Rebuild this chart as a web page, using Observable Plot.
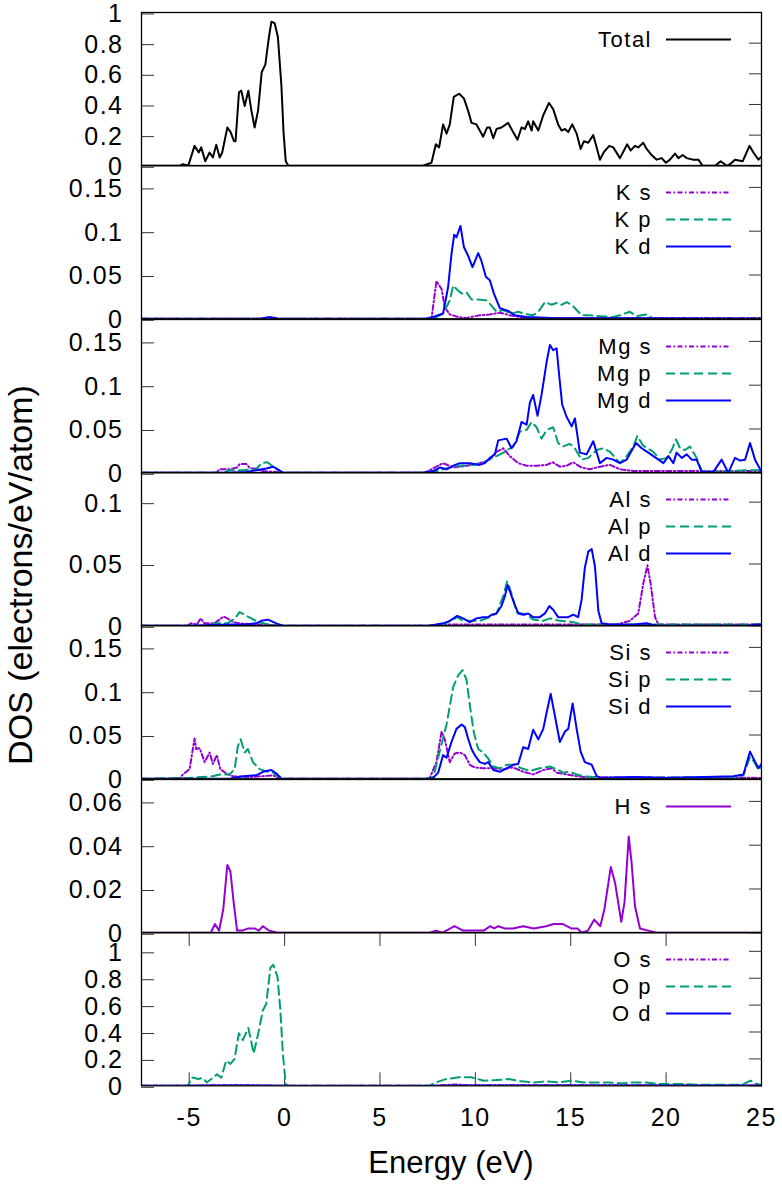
<!DOCTYPE html>
<html>
<head>
<meta charset="utf-8">
<script src="https://cdn.jsdelivr.net/npm/d3@7"></script>
<script src="https://cdn.jsdelivr.net/npm/@observablehq/plot@0.6"></script>
<style>
  html, body { margin: 0; padding: 0; background: #fff; }
  #chart { position: relative; width: 782px; height: 1189px; font-family: "Liberation Sans", Arial, sans-serif; color: #000; }
  #chart svg { position: absolute; left: 0; overflow: visible; background: transparent; }
  #chart svg text { letter-spacing: 1.5px; }
  .title { position: absolute; white-space: nowrap; }
</style>
</head>
<body>
<div id="chart"></div>
<script>
// Energy axis (eV) shared by every panel
const energyDomain = [-7.5, 25];
const energyTicks = [-5, 0, 5, 10, 15, 20, 25];

// DOS curves, [energy (eV), DOS (electrons/eV/atom)]
const totalDos = [[-7.5,0],[-5.5,0],[-5.33,0.01],[-5.05,0],[-4.72,0.13],[-4.5,0.087],[-4.37,0.12],[-4.16,0.03],[-3.93,0.087],[-3.76,0.054],[-3.58,0.137],[-3.4,0.054],[-3.27,0.087],[-3.0,0.25],[-2.83,0.22],[-2.65,0.16],[-2.57,0.16],[-2.39,0.48],[-2.27,0.49],[-2.09,0.39],[-1.9,0.49],[-1.74,0.36],[-1.57,0.25],[-1.39,0.36],[-1.2,0.61],[-1.01,0.66],[-0.82,0.84],[-0.69,0.94],[-0.52,0.93],[-0.35,0.84],[-0.17,0.53],[-0.05,0.21],[0.06,0.03],[0.2,0],[7.26,0],[7.7,0.02],[7.93,0.14],[8.1,0.12],[8.31,0.27],[8.49,0.21],[8.66,0.27],[8.87,0.45],[9.15,0.47],[9.4,0.44],[9.62,0.36],[9.8,0.28],[10.06,0.27],[10.41,0.19],[10.62,0.25],[10.76,0.25],[10.94,0.18],[11.11,0.24],[11.37,0.25],[11.72,0.28],[11.98,0.22],[12.21,0.17],[12.42,0.25],[12.6,0.24],[12.77,0.29],[12.95,0.23],[13.03,0.29],[13.3,0.23],[13.56,0.33],[13.86,0.41],[14.08,0.37],[14.34,0.27],[14.52,0.23],[14.7,0.24],[14.87,0.22],[15.08,0.27],[15.31,0.21],[15.52,0.11],[15.69,0.16],[15.92,0.15],[16.18,0.2],[16.36,0.12],[16.53,0.04],[16.74,0.09],[17.02,0.13],[17.23,0.12],[17.58,0.05],[17.96,0.14],[18.14,0.1],[18.37,0.13],[18.54,0.12],[18.8,0.15],[18.98,0.11],[19.24,0.07],[19.51,0.04],[19.77,0.05],[19.99,0.02],[20.2,0.04],[20.47,0.08],[20.64,0.05],[20.87,0.07],[21.08,0.05],[21.43,0.04],[21.69,0.04],[21.92,0],[22.57,0],[22.86,0.03],[23.18,0],[23.35,0.01],[23.61,0.04],[24.02,0.03],[24.37,0.13],[24.61,0.08],[24.84,0.04],[25,0.06]];

const kS = [[-7.5,0],[7.7,0],[7.96,0.043],[8.23,0.034],[8.4,0.013],[8.66,0.005],[9.1,0.002],[9.54,0.001],[10.23,0.004],[10.76,0.005],[11.29,0.007],[11.81,0.004],[12.34,0.002],[13.0,0.001],[25,0.001]];
const kP = [[-7.5,0],[7.79,0],[8.31,0.006],[8.66,0.021],[8.84,0.038],[9.1,0.032],[9.28,0.029],[9.54,0.03],[9.8,0.022],[10.15,0.022],[10.59,0.021],[10.85,0.015],[11.11,0.008],[11.46,0.01],[11.9,0.006],[12.25,0.008],[12.51,0.006],[12.77,0.005],[13.03,0.004],[13.3,0.008],[13.65,0.019],[14.0,0.016],[14.26,0.018],[14.52,0.016],[14.78,0.019],[15.05,0.016],[15.31,0.01],[15.57,0.004],[16.0,0.004],[16.53,0.003],[17.23,0.002],[17.58,0.004],[18.1,0.008],[18.46,0.003],[18.98,0.005],[19.33,0],[25,0]];
const kD = [[-7.5,0],[-1.3,0],[-0.78,0.002],[-0.3,0],[7.4,0],[7.79,0.002],[8.31,0.006],[8.57,0.036],[8.75,0.074],[8.89,0.096],[9.01,0.093],[9.22,0.106],[9.4,0.082],[9.62,0.072],[9.85,0.059],[10.15,0.075],[10.32,0.066],[10.55,0.048],[10.76,0.044],[10.97,0.029],[11.29,0.012],[11.72,0.009],[12.07,0.004],[12.69,0.002],[14.0,0.001],[25,0]];

const mgS = [[-7.5,0],[-3.6,0],[-3.4,0.004],[-2.9,0.004],[-2.5,0.006],[-2.35,0.01],[-2.0,0.01],[-1.8,0.005],[-1.5,0.005],[-1.2,0.002],[-0.5,0.001],[0,0],[7.3,0],[7.61,0.003],[8.31,0.011],[8.84,0.006],[9.54,0.008],[10.23,0.011],[10.76,0.015],[11.11,0.024],[11.46,0.028],[11.81,0.019],[12.25,0.011],[12.69,0.008],[13.21,0.008],[13.74,0.009],[14.05,0.012],[14.43,0.007],[14.78,0.008],[15.13,0.012],[15.57,0.006],[16.0,0.004],[16.53,0.007],[17.06,0.009],[17.58,0.004],[18.28,0.002],[25,0.002]];
const mgP = [[-7.5,0],[-3.2,0],[-2.9,0.003],[-2.2,0.003],[-1.5,0.004],[-1.2,0.011],[-0.9,0.012],[-0.65,0.008],[-0.35,0.003],[-0.1,0],[7.3,0],[7.79,0.001],[8.66,0.006],[9.19,0.008],[9.89,0.009],[10.41,0.011],[10.68,0.015],[11.02,0.018],[11.46,0.023],[11.98,0.03],[12.34,0.047],[12.69,0.049],[12.95,0.058],[13.21,0.052],[13.47,0.039],[13.74,0.049],[14.08,0.052],[14.34,0.034],[14.6,0.03],[14.95,0.033],[15.22,0.028],[15.57,0.015],[15.92,0.017],[16.36,0.026],[16.71,0.028],[17.06,0.024],[17.58,0.011],[17.93,0.019],[18.28,0.03],[18.49,0.042],[18.8,0.031],[19.33,0.024],[19.68,0.015],[20.03,0.017],[20.29,0.026],[20.52,0.038],[20.73,0.028],[20.99,0.026],[21.25,0.03],[21.6,0.017],[21.87,0.002],[22.8,0.001],[23.5,0.002],[24.3,0.003],[25,0.003]];
const mgD = [[-7.5,0],[-3.0,0],[-2.0,0.001],[-1.48,0.003],[-0.95,0.005],[-0.61,0.007],[-0.35,0.004],[-0.08,0],[7.26,0],[7.79,0.002],[8.14,0.006],[8.49,0.004],[8.84,0.008],[9.19,0.011],[9.71,0.011],[10.23,0.009],[10.5,0.011],[10.76,0.017],[11.02,0.021],[11.2,0.037],[11.64,0.039],[11.9,0.028],[12.16,0.036],[12.42,0.058],[12.69,0.055],[12.86,0.08],[13.03,0.089],[13.26,0.065],[13.47,0.089],[13.74,0.127],[13.91,0.146],[14.08,0.14],[14.26,0.142],[14.4,0.11],[14.55,0.078],[14.78,0.064],[15.05,0.053],[15.22,0.062],[15.48,0.023],[15.83,0.021],[16.18,0.036],[16.53,0.011],[16.88,0.017],[17.23,0.015],[17.58,0.011],[17.93,0.015],[18.42,0.034],[18.72,0.028],[19.07,0.023],[19.33,0.019],[19.6,0.015],[19.86,0.011],[20.12,0.019],[20.38,0.011],[20.55,0.023],[20.82,0.017],[21.08,0.021],[21.34,0.015],[21.6,0.015],[21.87,0.001],[22.48,0.001],[22.91,0.015],[23.26,0],[23.61,0.017],[23.88,0.014],[24.14,0.015],[24.4,0.034],[24.66,0.015],[24.93,0.004],[25,0.003]];

const alS = [[-7.5,0],[-5.1,0],[-4.9,0.002],[-4.6,0.001],[-4.4,0.006],[-4.2,0.002],[-3.67,0.002],[-3.2,0.0075],[-3.0,0.006],[-2.7,0.003],[-2.4,0.002],[-1.5,0.001],[0,0],[7.5,0],[8,0.001],[17.4,0.001],[18.1,0.004],[18.54,0.01],[18.8,0.034],[19.02,0.049],[19.19,0.034],[19.42,0.007],[19.6,0.001],[25,0.001]];
const alP = [[-7.5,0],[-4.0,0],[-3.67,0.002],[-3.0,0.002],[-2.6,0.006],[-2.36,0.011],[-2.1,0.009],[-1.74,0.006],[-1.4,0.003],[-0.8,0.001],[0,0],[7.6,0],[8.31,0.001],[9.05,0.007],[9.36,0.004],[10.23,0.004],[10.59,0.006],[11.11,0.01],[11.46,0.024],[11.67,0.036],[11.9,0.026],[12.16,0.011],[12.69,0.009],[13.03,0.005],[13.56,0.004],[13.91,0.006],[14.43,0.004],[15.13,0.003],[15.57,0.001],[25,0.001]];
const alD = [[-7.5,0],[-5.0,0],[-3.0,0.001],[-2.0,0.001],[-1.48,0.002],[-1.22,0.004],[-0.87,0.005],[-0.43,0.002],[-0.1,0],[7.61,0],[8.31,0.002],[8.66,0.004],[9.05,0.008],[9.36,0.006],[9.71,0.003],[10.06,0.006],[10.41,0.007],[10.68,0.007],[10.85,0.009],[11.11,0.01],[11.37,0.016],[11.55,0.024],[11.69,0.033],[11.9,0.024],[12.07,0.017],[12.25,0.01],[12.51,0.009],[12.77,0.01],[13.03,0.007],[13.38,0.007],[13.65,0.01],[13.88,0.016],[14.08,0.013],[14.34,0.007],[14.6,0.007],[14.87,0.007],[15.13,0.009],[15.39,0.007],[15.57,0.021],[15.74,0.047],[15.92,0.06],[16.1,0.062],[16.27,0.048],[16.45,0.012],[16.62,0.002],[17.06,0.001],[18.28,0.001],[18.98,0.002],[19.5,0],[24.3,0],[24.7,0.001],[25,0.001]];

const siS = [[-7.5,0],[-5.5,0],[-5.33,0.005],[-4.98,0.011],[-4.72,0.046],[-4.63,0.034],[-4.45,0.035],[-4.19,0.019],[-3.93,0.03],[-3.76,0.017],[-3.55,0.027],[-3.37,0.011],[-3.05,0.006],[-2.71,0.003],[-1.83,0.002],[-1.13,0.003],[-0.61,0.004],[-0.26,0],[7.4,0],[7.61,0.001],[7.96,0.019],[8.23,0.054],[8.4,0.045],[8.66,0.019],[8.92,0.029],[9.19,0.03],[9.45,0.027],[9.71,0.016],[9.97,0.013],[10.41,0.012],[10.94,0.012],[11.46,0.011],[11.98,0.013],[12.51,0.008],[13.03,0.005],[13.56,0.01],[14.0,0.012],[14.26,0.007],[14.78,0.005],[15.31,0.003],[15.8,0.002],[25,0.001]];
const siP = [[-7.5,0],[-5.0,0.001],[-3.76,0.003],[-3.4,0.005],[-2.88,0.005],[-2.62,0.011],[-2.45,0.037],[-2.3,0.045],[-2.09,0.03],[-1.92,0.034],[-1.66,0.019],[-1.31,0.011],[-0.87,0.008],[-0.61,0.007],[-0.35,0.003],[-0.1,0],[7.4,0],[7.8,0.002],[8.14,0.032],[8.49,0.062],[8.84,0.105],[9.1,0.118],[9.33,0.124],[9.54,0.113],[9.71,0.084],[9.92,0.053],[10.15,0.034],[10.41,0.03],[10.68,0.023],[10.94,0.014],[11.29,0.012],[11.64,0.016],[12.07,0.016],[12.42,0.012],[12.86,0.009],[13.38,0.012],[13.91,0.014],[14.26,0.011],[14.6,0.007],[14.95,0.008],[15.31,0.005],[15.66,0.003],[16.18,0.002],[16.6,0.001],[23.5,0.002],[24.05,0.004],[24.4,0.025],[24.6,0.02],[24.84,0.01],[25,0.014]];
const siD = [[-7.5,0],[-2.88,0],[-2.18,0.003],[-1.48,0.004],[-1.13,0.008],[-0.69,0.01],[-0.43,0.006],[-0.17,0],[7.5,0],[7.79,0.001],[8.05,0.007],[8.31,0.027],[8.49,0.024],[8.75,0.042],[9.01,0.057],[9.28,0.062],[9.45,0.059],[9.62,0.046],[9.8,0.034],[9.97,0.027],[10.23,0.019],[10.5,0.017],[10.68,0.019],[10.94,0.01],[11.29,0.008],[11.64,0.012],[11.98,0.016],[12.25,0.017],[12.51,0.036],[12.77,0.034],[13.03,0.056],[13.3,0.045],[13.56,0.057],[13.74,0.076],[13.95,0.097],[14.17,0.072],[14.43,0.042],[14.7,0.054],[14.87,0.057],[15.1,0.086],[15.31,0.057],[15.52,0.031],[15.74,0.019],[16.1,0.016],[16.36,0.003],[16.6,0.001],[18.28,0.002],[20,0.001],[23.53,0.003],[24.05,0.005],[24.4,0.031],[24.58,0.023],[24.84,0.012],[25,0.017]];

const hS = [[-7.5,0],[-3.87,0],[-3.65,0.004],[-3.43,0.001],[-3.21,0.011],[-3.0,0.031],[-2.84,0.028],[-2.67,0.014],[-2.49,0.001],[-2.23,0.001],[-1.9,0.002],[-1.57,0.002],[-1.35,0.001],[-1.14,0.003],[-0.81,0.001],[-0.37,0],[7.6,0],[7.93,0.001],[8.26,0],[8.91,0.003],[9.35,0.001],[10.44,0.001],[10.77,0.003],[10.99,0.002],[11.2,0.003],[11.53,0.002],[11.97,0.002],[12.51,0.003],[13.06,0.002],[13.71,0.003],[14.11,0.004],[14.59,0.004],[15.03,0.002],[15.35,0.002],[15.57,0],[15.9,0.001],[16.23,0.006],[16.55,0.003],[16.77,0.011],[17.1,0.03],[17.32,0.023],[17.65,0.005],[17.82,0.014],[18.04,0.044],[18.19,0.032],[18.37,0.012],[18.63,0.002],[19.07,0.001],[19.5,0],[25,0]];

const oS = [[-7.5,0],[-5.0,0],[-4.5,0.003],[-2.0,0.004],[0,0],[7.6,0],[8.5,0.006],[9.0,0.01],[9.5,0.005],[12.0,0.005],[17.0,0.004],[25,0.002]];
const oP = [[-7.5,0],[-5.07,0],[-4.85,0.062],[-4.52,0.05],[-4.3,0.06],[-4.08,0.025],[-3.76,0.06],[-3.54,0.085],[-3.32,0.06],[-3.06,0.188],[-2.84,0.163],[-2.62,0.2],[-2.4,0.39],[-2.19,0.34],[-1.9,0.43],[-1.62,0.24],[-1.35,0.41],[-1.14,0.56],[-0.96,0.61],[-0.74,0.88],[-0.59,0.9],[-0.37,0.81],[-0.22,0.56],[-0.09,0.24],[0.06,0.01],[0.2,0],[7.6,0],[7.93,0.025],[8.47,0.05],[9.13,0.063],[9.78,0.063],[10.44,0.038],[11.1,0.043],[11.75,0.05],[12.4,0.033],[13.06,0.025],[13.71,0.033],[14.37,0.025],[15.03,0.038],[15.68,0.025],[16.34,0.025],[17.0,0.025],[17.65,0.018],[18.29,0.025],[18.95,0.025],[19.61,0.013],[20.27,0.013],[20.92,0.013],[21.58,0.008],[22.45,0.008],[23.33,0.008],[24.0,0.008],[24.42,0.038],[24.75,0.013],[25,0.008]];
const oD = [[-7.5,0],[-3.0,0.002],[-1.0,0.003],[0.2,0],[7.6,0],[10.0,0.003],[25,0.002]];

// y-axis tick values of each panel
const totalTicks = [0, 0.2, 0.4, 0.6, 0.8, 1];
const smallTicks = [0, 0.05, 0.1, 0.15];
const alTicks = [0, 0.05, 0.1];
const hTicks = [0, 0.02, 0.04, 0.06];
const oTicks = [0, 0.2, 0.4, 0.6, 0.8, 1];

// orbital line styles
const styles = {
  total: {stroke: "#000000", dash: null},
  s: {stroke: "#9400d3", dash: "5,2.5,1.5,2.5"},
  p: {stroke: "#009e73", dash: "9,5"},
  d: {stroke: "#0000ff", dash: null},
  hs: {stroke: "#9400d3", dash: null}
};

const panels = [
  {ymax: 1, ticks: totalTicks, series: [["Total", totalDos, "total"]]},
  {ymax: 0.175, ticks: smallTicks, series: [["K s", kS, "s"], ["K p", kP, "p"], ["K d", kD, "d"]]},
  {ymax: 0.175, ticks: smallTicks, series: [["Mg s", mgS, "s"], ["Mg p", mgP, "p"], ["Mg d", mgD, "d"]]},
  {ymax: 0.124, ticks: alTicks, series: [["Al s", alS, "s"], ["Al p", alP, "p"], ["Al d", alD, "d"]]},
  {ymax: 0.175, ticks: smallTicks, series: [["Si s", siS, "s"], ["Si p", siP, "p"], ["Si d", siD, "d"]]},
  {ymax: 0.07, ticks: hTicks, series: [["H s", hS, "hs"]]},
  {ymax: 1.14, ticks: oTicks, series: [["O s", oS, "s"], ["O p", oP, "p"], ["O d", oD, "d"]]}
];

const chart = document.getElementById("chart");
const FIRST_TOP = 12;
const PANEL_H = 153.3;
const M = 12;
const FONT = "Liberation Sans, Arial, sans-serif";
const TICK_FONT = 25;

panels.forEach((p, i) => {
  const last = i === panels.length - 1;
  const marginBottom = last ? 104 : M;
  const marks = [
    Plot.axisY({anchor: "left", ticks: p.ticks, tickSize: -13, tickPadding: 31, dy: 1.5, tickFormat: d => String(d), label: null, fontSize: TICK_FONT, stroke: "#333"}),
    Plot.axisY({anchor: "right", ticks: p.ticks, tickSize: -13, tickFormat: () => "", label: null, stroke: "#333"})
  ];
  if (last) {
    marks.push(Plot.axisX({anchor: "bottom", ticks: energyTicks, tickSize: -13, tickPadding: 35, tickFormat: d => String(d), label: null, fontSize: TICK_FONT, stroke: "#333"}));
    marks.push(Plot.axisX({anchor: "top", ticks: energyTicks, tickSize: -13, tickFormat: () => "", label: null, stroke: "#333"}));
  }
  for (const [name, data, st] of p.series) {
    marks.push(Plot.line(data, {
      x: d => d[0], y: d => d[1],
      stroke: styles[st].stroke, strokeWidth: 2,
      strokeDasharray: styles[st].dash, clip: true
    }));
  }
  marks.push(Plot.frame({stroke: "#000", strokeWidth: 1.3}));

  const svg = Plot.plot({
    width: 782,
    height: PANEL_H + M + marginBottom,
    marginLeft: 141, marginRight: 21, marginTop: M, marginBottom,
    x: {domain: energyDomain, ...(last ? {} : {axis: null})},
    y: {domain: [0, p.ymax]},
    style: {background: "transparent", fontFamily: FONT, fontSize: TICK_FONT + "px", color: "#000", overflow: "visible"},
    marks
  });
  svg.style.top = (FIRST_TOP + i * PANEL_H - M) + "px";

  // legend: right-aligned label with a line sample
  const g = d3.select(svg).append("g").attr("font-family", FONT).attr("font-size", 22)
    .style("letter-spacing", "0.5px");
  p.series.forEach(([name, , st], j) => {
    const y = M + 27.5 + 27 * j;
    g.append("text").attr("x", 652).attr("y", y).attr("text-anchor", "end")
      .attr("dominant-baseline", "central").attr("fill", "#000").text(name);
    g.append("line").attr("x1", 666).attr("x2", 731).attr("y1", y).attr("y2", y)
      .attr("stroke", styles[st].stroke).attr("stroke-width", 2)
      .attr("stroke-dasharray", styles[st].dash);
  });
  chart.appendChild(svg);
});

// axis titles
const yTitle = document.createElement("div");
yTitle.className = "title";
yTitle.textContent = "DOS (electrons/eV/atom)";
yTitle.style.fontSize = "34px";
yTitle.style.left = "20px";
yTitle.style.top = "575px";
yTitle.style.transform = "translate(-50%, -50%) rotate(-90deg)";
chart.appendChild(yTitle);

const xTitle = document.createElement("div");
xTitle.className = "title";
xTitle.textContent = "Energy (eV)";
xTitle.style.fontSize = "31px";
xTitle.style.left = "451px";
xTitle.style.top = "1163px";
xTitle.style.transform = "translate(-50%, -50%)";
chart.appendChild(xTitle);
</script>
</body>
</html>
